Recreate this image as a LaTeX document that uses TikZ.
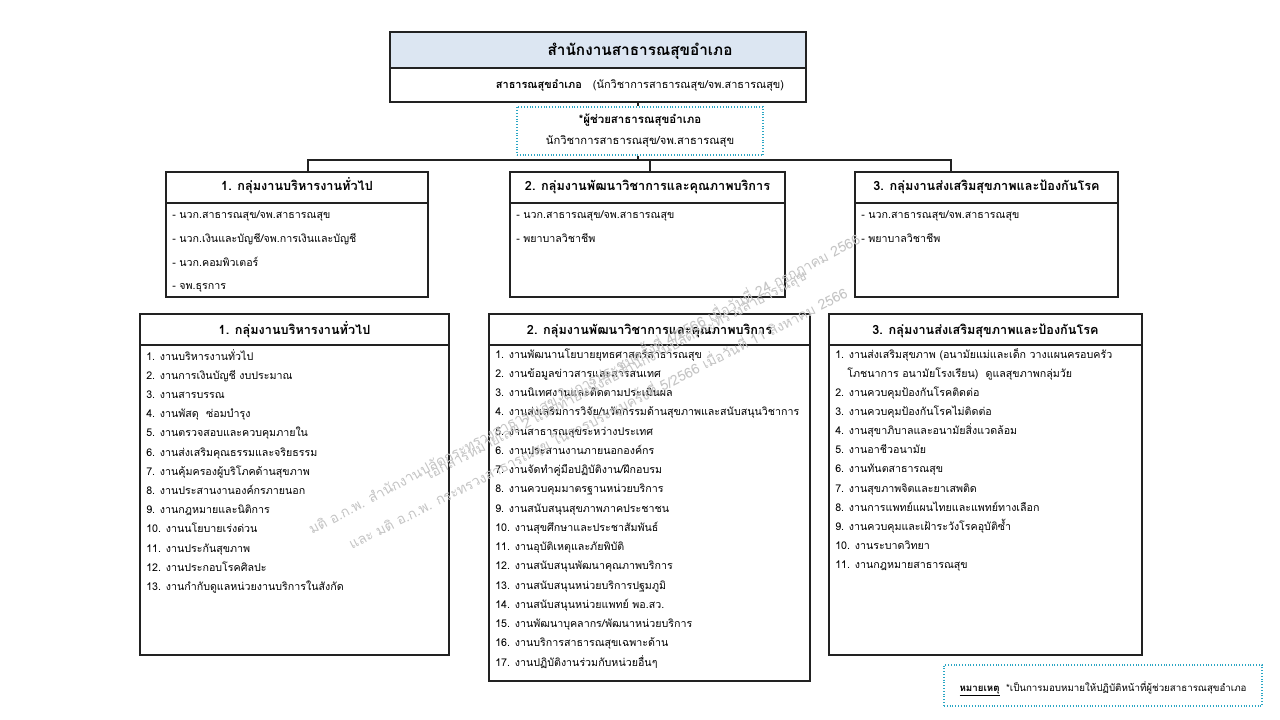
\documentclass[tikz,border=0pt]{standalone}
\usepackage{fontspec}
\setmainfont[Script=Thai]{Loma}
\definecolor{hdrblue}{HTML}{DCE6F2}
\definecolor{dotc}{HTML}{2BA6C4}
\definecolor{wmc}{HTML}{C4C4C4}
\definecolor{edge}{HTML}{222222}
\begin{document}
\begin{tikzpicture}[x=0.75pt,y=-0.75pt,
  box/.style={draw=edge, line width=1.1pt, inner sep=0},
  dotbox/.style={draw=dotc, line width=1.3pt, dash pattern=on 0.8pt off 1.3pt, inner sep=0},
  itm/.style={anchor=base west, inner sep=0, font=\fontsize{8}{9}\selectfont},
  hd/.style={anchor=base, inner sep=0, font=\bfseries\fontsize{9.5}{11}\selectfont},
  conn/.style={draw=edge, line width=0.9pt},
  sep/.style={draw=edge, line width=0.9pt},
  wm/.style={text=wmc, font=\fontsize{10.5}{12}\selectfont, anchor=base west, inner sep=0}
]
\useasboundingbox[fill=white] (0,0) rectangle (1280,720);

% ---------- top box ----------
\fill[hdrblue] (390,32) rectangle (806,68);
\node[box, minimum width=312pt, minimum height=52.5pt] (top) at (598,67) {};
\draw[sep] (390,68) -- (806,68);
\node[anchor=base, inner sep=0, font=\bfseries\fontsize{11.5}{13}\selectfont] (toptitle) at (640,56) {สำนักงานสาธารณสุขอำเภอ};
\node[anchor=base, inner sep=0, font=\fontsize{8.2}{10}\selectfont] (topsub) at (640,89) {\textbf{สาธารณสุขอำเภอ}\quad(นักวิชาการสาธารณสุข/จพ.สาธารณสุข)};

% ---------- assistant (dotted) ----------
\node[dotbox, minimum width=184.5pt, minimum height=36pt] (asst) at (640,131) {};
\node[anchor=base, inner sep=0, font=\bfseries\fontsize{8.6}{10}\selectfont] (asstA) at (640,124) {*ผู้ช่วยสาธารณสุขอำเภอ};
\node[anchor=base, inner sep=0, font=\fontsize{8.4}{10}\selectfont] (asstB) at (640,145) {นักวิชาการสาธารณสุข/จพ.สาธารณสุข};

% ---------- upper group boxes ----------
\node[box, minimum width=196.5pt, minimum height=93.75pt] (u1) at (297,234.5) {};
\node[box, minimum width=206.25pt, minimum height=93.75pt] (u2) at (647.5,234.5) {};
\node[box, minimum width=197.25pt, minimum height=93.75pt] (u3) at (986.5,234.5) {};
\draw[sep] (166,203) -- (428,203);
\draw[sep] (510,203) -- (785,203);
\draw[sep] (855,203) -- (1118,203);
\node[hd] (u1h) at (297,191) {1. กลุ่มงานบริหารงานทั่วไป};
\node[hd] (u2h) at (647.5,191) {2. กลุ่มงานพัฒนาวิชาการและคุณภาพบริการ};
\node[hd] (u3h) at (986.5,191) {3. กลุ่มงานส่งเสริมสุขภาพและป้องกันโรค};

\node[itm] (u1a) at (172,219) {- นวก.สาธารณสุข/จพ.สาธารณสุข};
\node[itm] (u1b) at (172,243) {- นวก.เงินและบัญชี/จพ.การเงินและบัญชี};
\node[itm] (u1c) at (172,266) {- นวก.คอมพิวเตอร์};
\node[itm] (u1d) at (172,289) {- จพ.ธุรการ};
\node[itm] (u2a) at (516,219) {- นวก.สาธารณสุข/จพ.สาธารณสุข};
\node[itm] (u2b) at (516,243) {- พยาบาลวิชาชีพ};
\node[itm] (u3a) at (861,219) {- นวก.สาธารณสุข/จพ.สาธารณสุข};
\node[itm] (u3b) at (861,243) {- พยาบาลวิชาชีพ};

% ---------- connectors ----------
\coordinate (bus) at (638,160);
\coordinate (d1) at (308,172);
\coordinate (d2) at (650,172);
\coordinate (d3) at (951,172);
\draw[conn] (top.south -| bus) -- (asst.north -| bus);
\draw[conn] (asst.south -| bus) -- (bus);
\draw[conn] (d1) -- (d1 |- bus) -- (d3 |- bus) -- (d3);
\draw[conn] (d2) -- (d2 |- bus);

% ---------- lower boxes ----------
\node[box, minimum width=231.75pt, minimum height=255.75pt] (l1) at (294.5,484.5) {};
\node[box, minimum width=240.75pt, minimum height=275.25pt] (l2) at (649.5,497.5) {};
\node[box, minimum width=234.75pt, minimum height=255.75pt] (l3) at (985.5,484.5) {};
\draw[sep] (140,345) -- (449,345);
\draw[sep] (489,345) -- (810,345);
\draw[sep] (829,345) -- (1142,345);
\node[hd] (l1h) at (294.5,334) {1. กลุ่มงานบริหารงานทั่วไป};
\node[hd] (l2h) at (649.5,334) {2. กลุ่มงานพัฒนาวิชาการและคุณภาพบริการ};
\node[hd] (l3h) at (985.5,334) {3. กลุ่มงานส่งเสริมสุขภาพและป้องกันโรค};

\foreach \t [count=\i] in {งานบริหารงานทั่วไป, งานการเงินบัญชี งบประมาณ, งานสารบรรณ, งานพัสดุ\ \ ซ่อมบำรุง, งานตรวจสอบและควบคุมภายใน, งานส่งเสริมคุณธรรมและจริยธรรม, งานคุ้มครองผู้บริโภคด้านสุขภาพ, งานประสานงานองค์กรภายนอก, งานกฎหมายและนิติการ, งานนโยบายเร่งด่วน, งานประกันสุขภาพ, งานประกอบโรคศิลปะ, งานกำกับดูแลหน่วยงานบริการในสังกัด}
  \node[itm] (l1-\i) at (146,{360+(\i-1)*19.2}) {\i. \t};

\foreach \t [count=\i] in {งานพัฒนานโยบายยุทธศาสตร์สาธารณสุข, งานข้อมูลข่าวสารและสารสนเทศ, งานนิเทศงานและติดตามประเมินผล, งานส่งเสริมการวิจัย/นวัตกรรมด้านสุขภาพและสนับสนุนวิชาการ, งานสาธารณสุขระหว่างประเทศ, งานประสานงานภายนอกองค์กร, งานจัดทำคู่มือปฏิบัติงาน/ฝึกอบรม, งานควบคุมมาตรฐานหน่วยบริการ, งานสนับสนุนสุขภาพภาคประชาชน, งานสุขศึกษาและประชาสัมพันธ์, งานอุบัติเหตุและภัยพิบัติ, งานสนับสนุนพัฒนาคุณภาพบริการ, งานสนับสนุนหน่วยบริการปฐมภูมิ, งานสนับสนุนหน่วยแพทย์ พอ.สว., งานพัฒนาบุคลากร/พัฒนาหน่วยบริการ, งานบริการสาธารณสุขเฉพาะด้าน, งานปฏิบัติงานร่วมกับหน่วยอื่นๆ}
  \node[itm] (l2-\i) at (495,{358+(\i-1)*19.25}) {\i. \t};

\node[itm] (l3-1) at (835,358) {1. งานส่งเสริมสุขภาพ (อนามัยแม่และเด็ก วางแผนครอบครัว};
\node[itm] (l3-1b) at (847,377) {โภชนาการ อนามัยโรงเรียน)\ \ ดูแลสุขภาพกลุ่มวัย};
\foreach \t [count=\i from 2] in {งานควบคุมป้องกันโรคติดต่อ, งานควบคุมป้องกันโรคไม่ติดต่อ, งานสุขาภิบาลและอนามัยสิ่งแวดล้อม, งานอาชีวอนามัย, งานทันตสาธารณสุข, งานสุขภาพจิตและยาเสพติด, งานการแพทย์แผนไทยและแพทย์ทางเลือก, งานควบคุมและเฝ้าระวังโรคอุบัติซ้ำ, งานระบาดวิทยา, งานกฎหมายสาธารณสุข}
  \node[itm] (l3-\i) at (835,{396+(\i-2)*19.2}) {\i. \t};

% ---------- footnote ----------
\node[dotbox, minimum width=238.5pt, minimum height=30.75pt] (note) at (1103,685.5) {};
\node[anchor=base, inner sep=0, font=\fontsize{7.3}{9}\selectfont] (notet) at (1103,691) {\textbf{\underline{หมายเหตุ}}\ \ *เป็นการมอบหมายให้ปฏิบัติหน้าที่ผู้ช่วยสาธารณสุขอำเภอ};

% ---------- watermark ----------
\node[wm, rotate=28] (wm1) at (430,480) {เอกสารหมายเลข 2 แนบท้ายหนังสือสำนักงานปลัดกระทรวงสาธารณสุข};
\node[wm, rotate=28] (wm2) at (312,535) {มติ อ.ก.พ. สำนักงานปลัดกระทรวงสาธารณสุข ในการประชุมครั้งที่ 4/2566 เมื่อวันที่ 24 กรกฎาคม 2566};
\node[wm, rotate=27] (wm3) at (352,550) {และ มติ อ.ก.พ. กระทรวงสาธารณสุข ในการประชุมครั้งที่ 5/2566 เมื่อวันที่ 11 สิงหาคม 2566};
\end{tikzpicture}
\end{document}
